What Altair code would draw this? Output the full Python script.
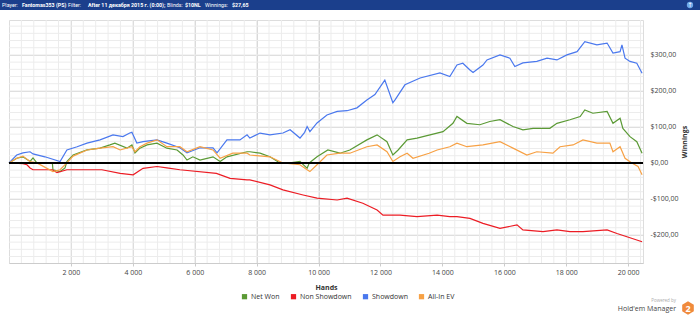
import altair as alt
import pandas as pd

# ---------------- data ----------------
sd_hands = [0, 250, 450, 680, 775, 1160, 1650, 1870, 2200, 2520, 2940, 3360, 3680, 3900, 3970, 4130,
            4330, 4780, 5100, 5520, 5750, 6170, 6590, 6720, 7040, 7460, 7690, 7780, 8110, 8430, 8850,
            9080, 9400, 9550, 9630, 9720, 9950, 10270, 10600, 10920, 11240, 11560, 11820, 12140, 12400,
            12470, 12790, 13280, 13920, 14240, 14470, 14660, 14890, 14990, 15310, 15440, 15860, 16180,
            16340, 16600, 17050, 17380, 17700, 18020, 18350, 18600, 18990, 19320, 19510, 19740, 19800,
            19900, 20060, 20280, 20450]
sd_vals = [0, 22, 28, 31, 25, 17, 4, 36, 45, 55, 64, 78, 73, 83, 85, 55,
           59, 64, 55, 42, 28, 42, 42, 28, 64, 64, 78, 69, 83, 78, 83,
           92, 69, 85, 101, 87, 111, 133, 143, 145, 153, 175, 190, 230, 167,
           175, 217, 236, 250, 240, 272, 277, 258, 251, 272, 286, 300, 291,
           268, 278, 282, 291, 286, 300, 309, 337, 328, 333, 305, 309, 328,
           291, 282, 277, 249]

net_hands = [0, 250, 450, 680, 775, 900, 1400, 1420, 1650, 1810, 1870, 2070, 2520, 2940, 3260, 3420,
             3810, 3970, 4070, 4230, 4460, 4780, 5100, 5430, 5620, 5750, 5940, 6170, 6590, 6820, 7040,
             7690, 7780, 8110, 8430, 8750, 9080, 9400, 9630, 9700, 9950, 10300, 10690, 11010, 11560,
             11890, 12210, 12400, 12570, 12860, 13180, 13600, 14020, 14340, 14470, 14790, 15210, 15530,
             15860, 16280, 16600, 16930, 17470, 17700, 18120, 18450, 18600, 18860, 19320, 19510, 19740,
             19830, 20060, 20280, 20450]
net_vals = [0, 13, 17, 4, 14, 0, 0, -19, -24, -14, 4, 22, 36, 41, 50, 55,
            41, 50, 28, 41, 50, 55, 41, 36, 22, 8, 17, 8, 17, 4, 17,
            31, 31, 27, 17, 0, 0, 4, -15, 0, 17, 36, 27, 36, 64,
            78, 59, 22, 36, 64, 69, 78, 87, 110, 129, 110, 106, 115,
            120, 101, 92, 96, 96, 110, 120, 129, 147, 138, 143, 110, 124,
            96, 73, 59, 27]

ev_hands = [0, 250, 450, 680, 900, 1420, 1650, 1870, 2070, 2520, 2940, 3360, 3590, 3970, 4070, 4230,
            4460, 4780, 5100, 5520, 5750, 6170, 6590, 6820, 7230, 7690, 7780, 8430, 8850, 9400, 9630,
            9720, 9950, 10270, 10690, 11010, 11560, 11890, 12210, 12400, 12630, 12860, 13050, 13570,
            13830, 14240, 14470, 14790, 15310, 15860, 16280, 16730, 17050, 17570, 17800, 18220, 18540,
            18990, 19410, 19510, 19740, 19900, 20120, 20320, 20450]
ev_vals = [0, 13, 19, 4, 0, -24, -19, 0, 19, 36, 41, 45, 36, 45, 31, 45,
           55, 64, 45, 45, 31, 45, 36, 13, 27, 27, 22, 17, 0, -5, -19,
           -24, -5, 22, 27, 27, 45, 50, 31, 4, 17, 27, 13, 27,
           36, 45, 55, 45, 50, 59, 41, 22, 31, 27, 45, 50, 64,
           55, 55, 31, 45, 13, 0, -10, -33]

nsd_hands = [0, 450, 580, 680, 775, 1400, 1550, 1870, 3000, 3590, 4010, 4330, 4780, 5100, 5520, 6700,
             7140, 7690, 7780, 8430, 8850, 9500, 9950, 10600, 10920, 11430, 11890, 12080, 12630, 13180,
             13830, 14240, 14470, 14890, 15310, 15860, 16410, 16600, 17250, 17700, 18120, 18540, 19320,
             19640, 19960, 20280, 20450]
nsd_vals = [0, -2, -5, -14, -19, -19, -27, -19, -19, -29, -33, -15, -10, -14, -19, -29,
            -43, -47, -47, -61, -75, -89, -98, -103, -98, -112, -131, -145, -145, -149,
            -145, -149, -149, -154, -168, -182, -172, -186, -191, -186, -191, -191, -186,
            -196, -205, -214, -219]

series_names = ["Net Won", "Non Showdown", "Showdown", "All-In EV"]
series_colors = ["#5b9a35", "#ec1c24", "#4a78ee", "#f7a145"]

y_labels = [-200, -100, 0, 100, 200, 300]
x_labels = [2000, 4000, 6000, 8000, 10000, 12000, 14000, 16000, 18000, 20000]
y_minor = list(range(-260, 400, 20))
x_minor = list(range(400, 20500, 400))

# ---------------- build tables ----------------
frames = []
for name, hh, vv in [("Net Won", net_hands, net_vals), ("Non Showdown", nsd_hands, nsd_vals),
                     ("Showdown", sd_hands, sd_vals), ("All-In EV", ev_hands, ev_vals)]:
    frames.append(pd.DataFrame({"hands": hh, "win": vv, "series": name,
                                "order": range(len(hh))}))
df = pd.concat(frames, ignore_index=True)

FONT = "Open Sans"
W, H = 634, 243
xs = alt.Scale(domain=[0, 20480], nice=False, zero=False)
ys = alt.Scale(domain=[-278, 397], nice=False, zero=False)

x_axis = alt.Axis(values=x_labels, title="Hands", grid=True, gridColor="#d6d6d6",
                  labelExpr="replace(format(datum.value, ','), ',', ' ')",
                  labelFont=FONT, labelFontSize=7, labelColor="#444", labelFontWeight="normal",
                  titleFont=FONT, titleFontSize=7, titleFontWeight="bold", titleColor="#333",
                  titlePadding=8, labelPadding=2, tickSize=3, tickColor="#cccccc",
                  domainColor="#cccccc")
y_axis = alt.Axis(values=y_labels, orient="right", title="Winnings", grid=True,
                  gridColor="#d6d6d6",
                  labelExpr="(datum.value < 0 ? '-' : '') + '$' + abs(datum.value) + ',00'",
                  labelFont=FONT, labelFontSize=7, labelColor="#444", labelPadding=7,
                  labelFontWeight="normal", tickSize=0, domain=False,
                  titleFont=FONT, titleFontSize=7, titleFontWeight="bold", titleColor="#333",
                  titleAngle=270, titlePadding=9)

grid_y = alt.Chart(pd.DataFrame({"hands": [0] * len(y_minor), "win": y_minor})).mark_rule(
    color="#ececec", strokeWidth=1).encode(
    y=alt.Y("win:Q", scale=ys, axis=y_axis))
grid_x = alt.Chart(pd.DataFrame({"hands": x_minor})).mark_rule(color="#ececec", strokeWidth=1).encode(
    x=alt.X("hands:Q", scale=xs, axis=x_axis))

lines = alt.Chart(df).mark_line(strokeWidth=1.2).encode(
    x=alt.X("hands:Q", scale=xs, axis=x_axis),
    y=alt.Y("win:Q", scale=ys, axis=y_axis),
    color=alt.Color("series:N", scale=alt.Scale(domain=series_names, range=series_colors),
                    legend=alt.Legend(title=None, orient="none", direction="horizontal",
                                      legendX=232, legendY=273, symbolType="square",
                                      symbolSize=5, symbolStrokeWidth=3, labelFont=FONT,
                                      labelFontSize=7, labelColor="#333", columnPadding=6,
                                      labelOffset=3)),
    order="order:Q",
)

zero = alt.Chart(pd.DataFrame({"win": [0]})).mark_rule(color="black", strokeWidth=2).encode(
    y=alt.Y("win:Q", scale=ys, axis=y_axis))

one = pd.DataFrame({"a": [0]})
header = alt.Chart(one).mark_rect(color="#1b3f8c").encode(
    x=alt.value(-9), x2=alt.value(691), y=alt.value(-20), y2=alt.value(-10))

HF = "Roboto"
header_parts = [("Player:", 2, "normal"), ("Fantomas353 (PS)", 22, "bold"), ("Filter:", 68, "normal"),
                ("After 11 декабря 2015 г. (0:00);", 88, "bold"), ("Blinds:", 167, "normal"),
                ("$10NL", 185, "bold"), ("Winnings:", 205, "normal"), ("$27,65", 232, "bold")]
texts = []
for t, px, wt in header_parts:
    texts.append(alt.Chart(one).mark_text(text=t, color="white", font=HF, fontSize=5.3,
                                          fontWeight=wt, align="left", baseline="middle").encode(
        x=alt.value(px - 9), y=alt.value(-15)))

icon = alt.Chart(one).mark_point(filled=True, color="#6fa8e8", size=40, shape="circle", opacity=1).encode(
    x=alt.value(681), y=alt.value(-15))
icon_t = alt.Chart(one).mark_text(text="↑", color="white", fontSize=6, font="DejaVu Sans",
                                  baseline="middle").encode(x=alt.value(681), y=alt.value(-15))

pow1 = alt.Chart(one).mark_text(text="Powered by", color="#aaaaaa", font=FONT, fontSize=4.5,
                                align="right").encode(x=alt.value(667), y=alt.value(281))
pow2 = alt.Chart(one).mark_text(text="Hold'em Manager", color="#444444", font=FONT, fontSize=7,
                                align="right", baseline="middle").encode(x=alt.value(667), y=alt.value(289))
hexagon = alt.Chart(one).mark_point(
    filled=True, color="#f08a3c", opacity=1, size=180,
    shape="M0,-1 L0.866,-0.5 L0.866,0.5 L0,1 L-0.866,0.5 L-0.866,-0.5 Z").encode(
    x=alt.value(679), y=alt.value(288))
hex_t = alt.Chart(one).mark_text(text="2", color="white", font=FONT, fontSize=9, fontWeight="bold",
                                 baseline="middle").encode(x=alt.value(679), y=alt.value(288.5))

chart = alt.layer(grid_y, grid_x, lines, zero, header, *texts, icon, icon_t, pow1, pow2, hexagon, hex_t).properties(
    width=W, height=H,
    autosize=alt.AutoSizeParams(type="none"),
    padding={"left": 9, "top": 20, "right": 57, "bottom": 55},
    background="white",
).configure_view(stroke="#dddddd")

chart.save("out.html", embed_options={"renderer": "svg", "actions": False})
